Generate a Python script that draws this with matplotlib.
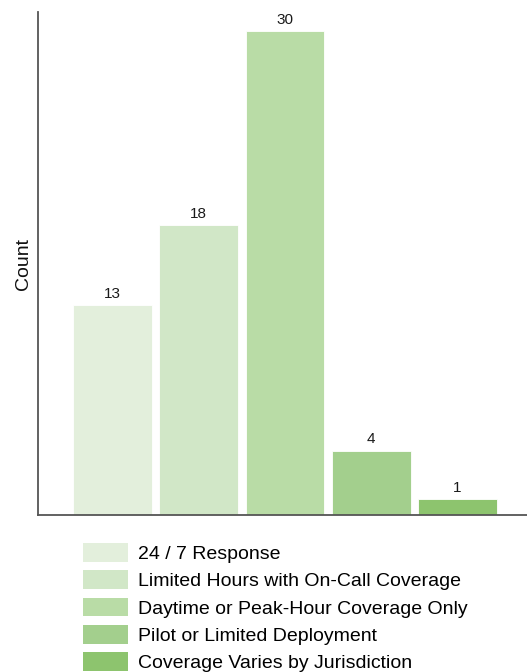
import matplotlib
matplotlib.use("Agg")
import matplotlib.pyplot as plt
from matplotlib.patches import Patch

plt.rcParams['font.family'] = ['Liberation Sans', 'DejaVu Sans']

categories = [
    "24 / 7 Response",
    "Limited Hours with On-Call Coverage",
    "Daytime or Peak-Hour Coverage Only",
    "Pilot or Limited Deployment",
    "Coverage Varies by Jurisdiction",
]
counts = [13, 18, 30, 4, 1]
colors = ["#e3efdc", "#d1e7c7", "#b9dca6", "#a3cf8d", "#8dc46e"]

W, H = 527, 672
fig = plt.figure(figsize=(W / 100, H / 100), dpi=100)
# axes spans x 38..532 px, y 12..515 px (from top)
ax = fig.add_axes([38 / W, (H - 515) / H, (532 - 38) / W, (515 - 12) / H])

x = list(range(len(categories)))
bars = ax.bar(x, counts, width=0.915, color=colors, edgecolor="white", linewidth=0.6)
for xi, v in zip(x, counts):
    ax.annotate(str(v), (xi, v), xytext=(0, 3), textcoords="offset points",
                ha="center", va="bottom", fontsize=11, color="#1a1a1a")

ax.set_xlim(-0.865, len(categories) - 1 + 0.865)
ax.set_ylim(0, max(counts) * 1.04)
ax.set_xticks([])
ax.set_yticks([])
for side in ("top", "right"):
    ax.spines[side].set_visible(False)
for side in ("left", "bottom"):
    ax.spines[side].set_color("#555555")
    ax.spines[side].set_linewidth(1.3)
ax.set_ylabel("Count", fontsize=14, labelpad=4, color="#111111")

handles = [Patch(facecolor=c, edgecolor="none") for c in colors]
fig.legend(handles, categories, loc="upper left",
           bbox_to_anchor=(83 / W, (H - 543) / H),
           frameon=False, fontsize=14, handlelength=2.3, handleheight=1.1,
           handletextpad=0.55, labelspacing=0.38, borderpad=0, borderaxespad=0)

fig.savefig("out.png", dpi=100)
